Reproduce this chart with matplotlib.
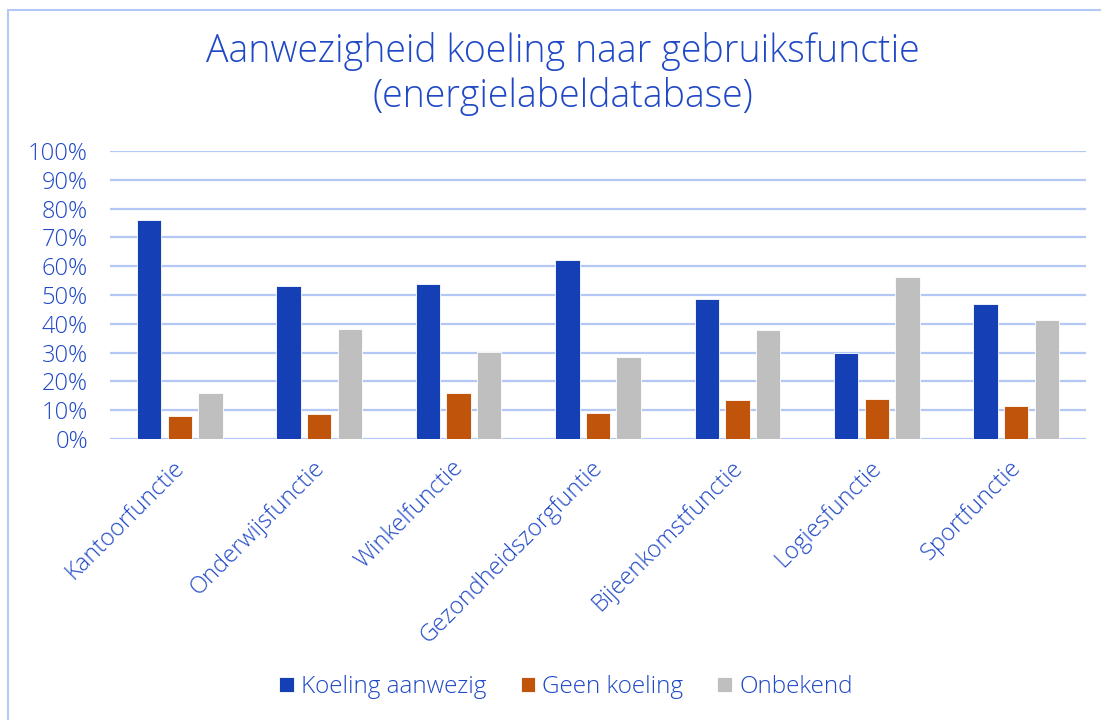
import numpy as np
import matplotlib
matplotlib.use("Agg")
import matplotlib.pyplot as plt
import matplotlib.transforms as mtransforms
from matplotlib.patches import Rectangle
from matplotlib.ticker import PercentFormatter

categories = [
    "Kantoorfunctie",
    "Onderwijsfunctie",
    "Winkelfunctie",
    "Gezondheidszorgfuntie",
    "Bijeenkomstfunctie",
    "Logiesfunctie",
    "Sportfunctie",
]
koeling_aanwezig = [76.0, 53.0, 53.7, 62.2, 48.6, 30.0, 47.0]
geen_koeling = [7.9, 8.8, 15.9, 8.9, 13.5, 13.9, 11.5]
onbekend = [15.9, 38.1, 30.3, 28.5, 37.7, 56.4, 41.4]
series_names = ["Koeling aanwezig", "Geen koeling", "Onbekend"]
colors = ["#1540B5", "#C0540A", "#BFBFBF"]

text_color = "#1F48C6"
grid_color = "#B4C8F6"

plt.rcParams["font.family"] = ["Open Sans", "DejaVu Sans"]
plt.rcParams["font.weight"] = "light"

fig = plt.figure(figsize=(11.01, 7.2), dpi=100)
ax = fig.add_axes([110 / 1101, 281 / 720, 976 / 1101, 288 / 720])

x = np.arange(len(categories))
width = 0.175
step = 0.22
for i, (vals, name, c) in enumerate(zip([koeling_aanwezig, geen_koeling, onbekend], series_names, colors)):
    ax.bar(x + (i - 1) * step, vals, width, color=c, label=name,
           edgecolor="white", linewidth=0.6, zorder=3)

ax.set_xlim(-0.5, len(categories) - 0.5)
ax.set_ylim(0, 100)
ax.set_yticks(np.arange(0, 101, 10))
ax.yaxis.set_major_formatter(PercentFormatter(decimals=0))
ax.grid(axis="y", color=grid_color, linewidth=1.6, zorder=0)
for s in ax.spines.values():
    s.set_visible(False)
ax.tick_params(axis="both", length=0, labelsize=17, labelcolor=text_color)
ax.tick_params(axis="y", pad=16)
ax.set_xticks(x)
ax.set_xticklabels(categories, rotation=45, ha="right", rotation_mode="anchor")
ax.tick_params(axis="x", pad=12)
# nudge the rotated labels a bit to the left
shift = mtransforms.ScaledTranslation(-7 / 100, 0, fig.dpi_scale_trans)
for lbl in ax.get_xticklabels():
    lbl.set_transform(lbl.get_transform() + shift)

fig.text(0.511, 0.897, "Aanwezigheid koeling naar gebruiksfunctie\n(energielabeldatabase)",
         ha="center", va="center", fontsize=27, color=text_color,
         linespacing=1.22)

fig.legend(loc="center", bbox_to_anchor=(566 / 1101, 1 - 687 / 720), ncol=3,
           frameon=False, fontsize=17.5, labelcolor=text_color,
           handlelength=0.6, handleheight=0.6, handletextpad=0.3, columnspacing=1.4)

fig.patches.append(Rectangle((8 / 1101, -0.1), 1.2, 1.1 - 9.5 / 720,
                             transform=fig.transFigure, fill=False,
                             edgecolor=grid_color, linewidth=1.5))

fig.savefig("out.png", dpi=100)
